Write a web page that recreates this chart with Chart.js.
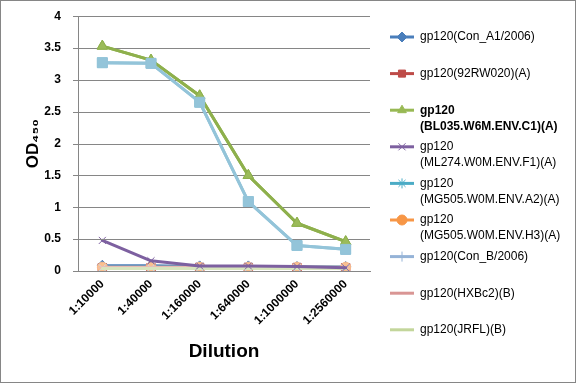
<!DOCTYPE html>
<html><head><meta charset="utf-8">
<script src="https://cdn.jsdelivr.net/npm/chart.js@4/dist/chart.umd.min.js"></script>
<style>html,body{margin:0;padding:0;background:#fff}#wrap{width:576px;height:383px}</style>
</head><body><div id="wrap"><canvas id="c" width="576" height="383"></canvas></div>
<script>
// ---- data ----
const categories = ['1:10000','1:40000','1:160000','1:640000','1:1000000','1:2560000'];
const yTickLabels = ['0','0.5','1','1.5','2','2.5','3','3.5','4'];
const legendLabels = [
  ['gp120(Con_A1/2006)'],
  ['gp120(92RW020)(A)'],
  ['gp120','(BL035.W6M.ENV.C1)(A)'],
  ['gp120','(ML274.W0M.ENV.F1)(A)'],
  ['gp120','(MG505.W0M.ENV.A2)(A)'],
  ['gp120','(MG505.W0M.ENV.H3)(A)'],
  ['gp120(Con_B/2006)'],
  ['gp120(HXBc2)(B)'],
  ['gp120(JRFL)(B)']
];
const conA1   = [0.09, 0.09, 0.08, 0.08, 0.07, 0.07];
const rw020   = [0.05, 0.05, 0.05, 0.05, 0.05, 0.05];
const bl035   = [3.53, 3.31, 2.75, 1.50, 0.75, 0.46];
const ml274   = [0.48, 0.16, 0.08, 0.08, 0.07, 0.05];
const mg505A2 = [0.06, 0.06, 0.06, 0.06, 0.06, 0.06];
const mg505H3 = [0.06, 0.06, 0.06, 0.06, 0.06, 0.06];
const conB    = [0.05, 0.05, 0.05, 0.05, 0.05, 0.05];
const hxbc2   = [0.05, 0.05, 0.05, 0.05, 0.05, 0.05];
const jrfl    = [0.04, 0.04, 0.04, 0.04, 0.04, 0.04];
const extraSeries = [3.27, 3.26, 2.65, 1.09, 0.40, 0.34];

// ---- styles ----
function ds(label, data, color, style, radius, width, fill, order){
  return {label, data, borderColor: color, backgroundColor: fill || color,
    pointStyle: style, pointRadius: radius, pointHoverRadius: radius,
    pointBorderColor: color, pointBackgroundColor: fill || color, pointBorderWidth: 1,
    borderWidth: width, tension: 0, order};
}
const datasets = [
  ds(legendLabels[0].join(''), conA1, '#4A7EBB', 'rectRot', 5, 2, null, 20),
  ds(legendLabels[1].join(''), rw020, '#BE4B48', 'rect', 6, 3, '#C0504D', 19),
  ds(legendLabels[2].join(''), bl035, '#8EB04C', 'triangle', 6, 3, '#9BBB59', 2),
  ds(legendLabels[3].join(''), ml274, '#7D60A0', 'crossRot', 5, 3, null, 3),
  ds(legendLabels[4].join(''), mg505A2, '#4BACC6', 'star', 5, 3, null, 17),
  ds(legendLabels[5].join(''), mg505H3, '#F9B98A', 'circle', 5, 3, '#FAC090', 16),
  ds(legendLabels[6].join(''), conB, '#C9D6EA', 'crossRot', 5, 2, null, 15),
  ds(legendLabels[7].join(''), hxbc2, '#E6B9B8', 'line', 4, 3, null, 14),
  ds(legendLabels[8].join(''), jrfl, '#D7E4BD', 'circle', 0, 3, null, 13),
  ds('', extraSeries, '#93C4D9', 'rect', 7, 3, null, 1)
];
const legendColors = ['#4A7EBB','#BE4B48','#98B954','#7D60A0','#4BACC6','#F79646','#95B3D7','#D99694','#C3D69B'];
const legendStyles = ['rectRot','rect','triangle','crossRot','star','circle','cross','line',null];

const frame = {
  id: 'frame',
  afterDraw(chart){
    const ctx = chart.ctx, ys = chart.scales.y, a = chart.chartArea;
    ctx.save();
    ctx.globalAlpha = 1; ctx.globalCompositeOperation = 'source-over'; ctx.setLineDash([]);
    // horizontal gridlines + tick marks
    ctx.strokeStyle = '#868686'; ctx.lineWidth = 1;
    ys.ticks.forEach((t, i) => {
      const py = Math.round(ys.getPixelForTick(i)) + 0.5;
      ctx.beginPath(); ctx.moveTo(a.left - 5, py); ctx.lineTo(a.right, py); ctx.stroke();
    });
    ctx.restore();
    // keep the main curves above the gridlines
    [2, 9].forEach(idx => { const m = chart.getDatasetMeta(idx); if (m && m.controller) m.controller.draw(); });
    ctx.save();
    ctx.strokeStyle = '#868686'; ctx.lineWidth = 1;
    ctx.strokeRect(0.5, 0.5, 575, 382);
    // custom legend
    const lx0 = 390, lx1 = 414, mx = 402, tx = 420, y0 = 37, pitch = 36.6, lh = 16;
    legendLabels.forEach((lines, i) => {
      const y = y0 + i * pitch;
      ctx.strokeStyle = legendColors[i]; ctx.lineWidth = 3;
      ctx.beginPath(); ctx.moveTo(lx0, y); ctx.lineTo(lx1, y); ctx.stroke();
      if (legendStyles[i]) {
        ctx.fillStyle = legendColors[i]; ctx.strokeStyle = legendColors[i]; ctx.lineWidth = 1;
        Chart.helpers.drawPoint(ctx, {pointStyle: legendStyles[i], radius: 5, borderWidth: 1, rotation: 0}, mx, y);
      }
      ctx.fillStyle = '#000';
      ctx.font = (i === 2 ? 'bold ' : '') + '12px "Liberation Sans", Arial, sans-serif';
      ctx.textBaseline = 'middle'; ctx.textAlign = 'left';
      lines.forEach((t, j) => ctx.fillText(t, tx, y + j * lh));
    });
    ctx.restore();
  }
};

new Chart(document.getElementById('c'), {
  type: 'line',
  data: { labels: categories, datasets },
  options: {
    responsive: false, animation: false, devicePixelRatio: 1,
    layout: { padding: { left: 0, top: 16, right: 206, bottom: 0 } },
    plugins: { legend: { display: false }, tooltip: { enabled: false } },
    elements: { line: { borderCapStyle: 'round', borderJoinStyle: 'round' } },
    scales: {
      x: {
        offset: true,
        grid: { display: false, drawTicks: false },
        border: { color: '#868686', width: 1 },
        ticks: { minRotation: 45, maxRotation: 45, padding: 6, color: '#000',
          font: { family: '"Liberation Sans", Arial, sans-serif', size: 12, weight: 'bold' } },
        title: { display: true, text: 'Dilution', color: '#000', padding: { top: 4, bottom: 20 },
          font: { family: '"Liberation Sans", Arial, sans-serif', size: 19, weight: 'bold' } },
        afterFit(s){ s.height = 112; }
      },
      y: {
        min: 0, max: 4,
        grid: { display: false },
        border: { color: '#868686', width: 1 },
        ticks: { stepSize: 0.5, padding: 9, color: '#000',
          callback: (v, i) => yTickLabels[i],
          font: { family: '"Liberation Sans", Arial, sans-serif', size: 12, weight: 'bold' } },
        title: { display: true, text: 'OD₄₅₀', color: '#000', padding: { top: 23, bottom: 0 },
          font: { family: '"Liberation Sans", Arial, sans-serif', size: 17, weight: 'bold' } },
        afterFit(s){ s.width = 78; }
      }
    }
  },
  plugins: [frame]
});
</script></body></html>
